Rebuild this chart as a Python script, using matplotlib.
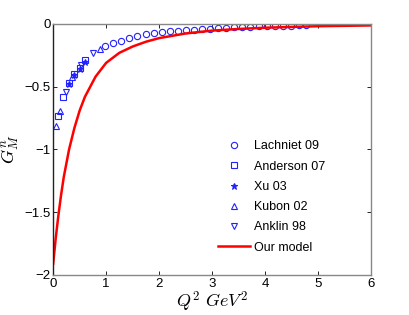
import numpy as np
import matplotlib
matplotlib.use("Agg")
import matplotlib.pyplot as plt

plt.rcParams['font.family'] = ['Liberation Sans', 'DejaVu Sans']
plt.rcParams['mathtext.fontset'] = 'cm'

# Lachniet 09 (circles)
lach_q2 = [0.98, 1.13, 1.29, 1.44, 1.59, 1.75, 1.90, 2.05, 2.20, 2.36, 2.51, 2.66, 2.81,
           2.96, 3.12, 3.27, 3.42, 3.57, 3.72, 3.88, 4.03, 4.18, 4.33, 4.49, 4.64, 4.77]
lach_gm = [-0.175, -0.150, -0.133, -0.112, -0.095, -0.083, -0.074, -0.066, -0.060, -0.055,
           -0.049, -0.045, -0.041, -0.037, -0.033, -0.030, -0.027, -0.025, -0.023, -0.020,
           -0.018, -0.016, -0.014, -0.013, -0.012, -0.011]

# Anderson 07 (squares)
and_q2 = [0.10, 0.18, 0.30, 0.40, 0.50, 0.60]
and_gm = [-0.73, -0.58, -0.47, -0.40, -0.35, -0.29]

# Xu 03 (asterisks)
xu_q2 = [0.30, 0.40, 0.50, 0.60]
xu_gm = [-0.48, -0.41, -0.36, -0.30]

# Kubon 02 (up triangles)
kub_q2 = [0.06, 0.12, 0.36, 0.89]
kub_gm = [-0.81, -0.69, -0.42, -0.20]

# Anklin 98 (down triangles)
ank_q2 = [0.25, 0.53, 0.76]
ank_gm = [-0.54, -0.33, -0.23]

# model curve
model_q2 = [0, 0.05, 0.1, 0.15, 0.2, 0.3, 0.4, 0.5, 0.6, 0.8, 1.0, 1.25, 1.5, 1.75,
            2.0, 2.5, 3.0, 3.5, 4.0, 5.0, 6.0]
model_gm = [-1.91, -1.70, -1.52, -1.36, -1.22, -1.00, -0.83, -0.69, -0.58, -0.42, -0.31,
            -0.23, -0.18, -0.142, -0.113, -0.076, -0.053, -0.040, -0.030, -0.018, -0.012]

blue = '#2222ff'
fig = plt.figure(figsize=(4.09, 3.15), dpi=100)
ax = fig.add_axes([0.130, 0.127, 0.777, 0.797])

mk = dict(linestyle='none', color=blue, markerfacecolor='none', markersize=4.5, markeredgewidth=0.8)
ax.plot(lach_q2, lach_gm, marker='o', label='Lachniet 09', **mk)
ax.plot(and_q2, and_gm, marker='s', label='Anderson 07', **dict(mk, markersize=3.8))
ax.plot(xu_q2, xu_gm, marker='*', label='Xu 03', **dict(mk, markerfacecolor=blue, markersize=4.5))
ax.plot(kub_q2, kub_gm, marker='^', label='Kubon 02', **mk)
ax.plot(ank_q2, ank_gm, marker='v', label='Anklin 98', **mk)
ax.plot(model_q2, model_gm, color='red', lw=1.8, label='Our model')

ax.set_xlim(0, 6)
ax.set_ylim(-2, 0)
ax.set_xticks(range(0, 7))
ax.set_yticks([-2, -1.5, -1, -0.5, 0])
ax.set_yticklabels(['\u22122', '\u22121.5', '\u22121', '\u22120.5', '0'])
ax.tick_params(direction='in', top=True, right=True, labelsize=9.5, length=3, width=0.6, pad=2)
for s in ['top', 'right', 'bottom']:
    ax.spines[s].set_color('#888888')
ax.spines['left'].set_color('#222222')
for s in ax.spines.values():
    s.set_linewidth(1.0)

ax.set_xlabel(r'$Q^2\ GeV^2$', fontsize=13, labelpad=0)
ax.set_ylabel(r'$G_M^n$', fontsize=13, labelpad=2)

ax.legend(loc='lower right', frameon=False, fontsize=9, handlelength=2.55,
          handletextpad=0.3, labelspacing=0.66, borderaxespad=0,
          bbox_to_anchor=(0.872, 0.065))

fig.savefig('out.png', dpi=100)
